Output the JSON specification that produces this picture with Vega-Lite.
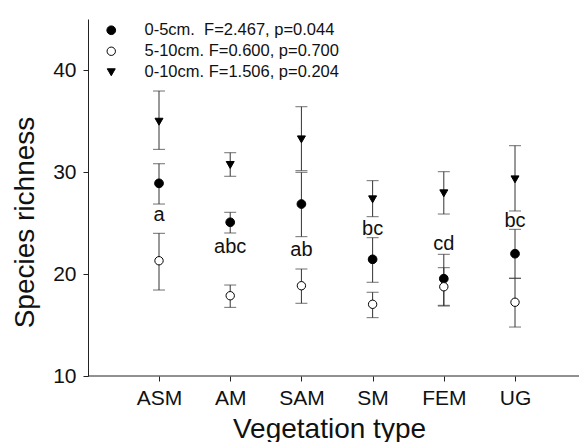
{
  "$schema": "https://vega.github.io/schema/vega-lite/v6.json",
  "autosize": {"type": "none"},
  "padding": {"left": 88, "top": 19, "right": 0, "bottom": 66},
  "width": 491,
  "height": 357,
  "config": {
    "view": {"stroke": null},
    "font": "Liberation Sans",
    "axis": {"grid": false, "domainColor": "#222", "tickColor": "#222", "labelColor": "#111", "titleColor": "#111", "titleFontWeight": "normal"},
    "legend": {"title": null, "orient": "none", "legendX": 15, "legendY": 3, "padding": 0, "labelFontSize": 16.5, "labelOffset": 25, "rowPadding": 4, "symbolStrokeColor": "#000", "symbolStrokeWidth": 1, "labelColor": "#111", "labelLimit": 400}
  },
  "data": {
    "values": [
      {"veg": "ASM", "depth": "0-5cm.\u00a0 F=2.467, p=0.044", "mean": 28.89, "lo": 26.86, "hi": 30.81},
      {"veg": "ASM", "depth": "5-10cm. F=0.600, p=0.700", "mean": 21.30, "lo": 18.43, "hi": 23.99},
      {"veg": "ASM", "depth": "0-10cm. F=1.506, p=0.204", "mean": 34.93, "lo": 32.22, "hi": 37.94},
      {"veg": "AM", "depth": "0-5cm.\u00a0 F=2.467, p=0.044", "mean": 25.07, "lo": 24.02, "hi": 26.05},
      {"veg": "AM", "depth": "5-10cm. F=0.600, p=0.700", "mean": 17.87, "lo": 16.73, "hi": 18.92},
      {"veg": "AM", "depth": "0-10cm. F=1.506, p=0.204", "mean": 30.69, "lo": 29.58, "hi": 31.89},
      {"veg": "SAM", "depth": "0-5cm.\u00a0 F=2.467, p=0.044", "mean": 26.86, "lo": 23.66, "hi": 29.97},
      {"veg": "SAM", "depth": "5-10cm. F=0.600, p=0.700", "mean": 18.85, "lo": 17.13, "hi": 20.49},
      {"veg": "SAM", "depth": "0-10cm. F=1.506, p=0.204", "mean": 33.2, "lo": 30.13, "hi": 36.4},
      {"veg": "SM", "depth": "0-5cm.\u00a0 F=2.467, p=0.044", "mean": 21.44, "lo": 19.19, "hi": 23.56},
      {"veg": "SM", "depth": "5-10cm. F=0.600, p=0.700", "mean": 17.03, "lo": 15.72, "hi": 18.21},
      {"veg": "SM", "depth": "0-10cm. F=1.506, p=0.204", "mean": 27.32, "lo": 25.62, "hi": 29.15},
      {"veg": "FEM", "depth": "0-5cm.\u00a0 F=2.467, p=0.044", "mean": 19.54, "lo": 16.93, "hi": 21.93},
      {"veg": "FEM", "depth": "5-10cm. F=0.600, p=0.700", "mean": 18.75, "lo": 16.86, "hi": 20.62},
      {"veg": "FEM", "depth": "0-10cm. F=1.506, p=0.204", "mean": 27.91, "lo": 25.88, "hi": 30.03},
      {"veg": "UG", "depth": "0-5cm.\u00a0 F=2.467, p=0.044", "mean": 21.99, "lo": 19.58, "hi": 24.38},
      {"veg": "UG", "depth": "5-10cm. F=0.600, p=0.700", "mean": 17.23, "lo": 14.80, "hi": 19.58},
      {"veg": "UG", "depth": "0-10cm. F=1.506, p=0.204", "mean": 29.28, "lo": 26.18, "hi": 32.58}
    ]
  },
  "layer": [
    {
      "mark": {"type": "rule", "color": "#333", "strokeWidth": 1},
      "encoding": {
        "x": {
          "field": "veg", "type": "nominal", "sort": ["ASM", "AM", "SAM", "SM", "FEM", "UG"],
          "scale": {"type": "point", "padding": 0.948, "align": 0.526},
          "axis": {"title": "Vegetation type", "domain": false, "labelAngle": 0, "labelFontSize": 21, "labelPadding": 6, "tickSize": 5, "titleFontSize": 28, "titleX": 241, "titleY": 61, "titleBaseline": "alphabetic", "titleAnchor": null}
        },
        "y": {"field": "lo", "type": "quantitative", "scale": {"domain": [10, 45], "nice": false, "zero": false},
          "axis": {"title": "Species richness", "values": [10, 20, 30, 40], "labelFontSize": 21, "labelPadding": 7, "tickSize": 5, "titleFontSize": 28, "titleX": -55, "titleY": 203, "titleBaseline": "alphabetic", "titleAngle": -90}},
        "y2": {"field": "hi"}
      }
    },
    {
      "mark": {"type": "tick", "orient": "horizontal", "size": 12, "thickness": 1, "color": "#333"},
      "encoding": {
        "x": {"field": "veg", "type": "nominal", "sort": ["ASM", "AM", "SAM", "SM", "FEM", "UG"]},
        "y": {"field": "lo", "type": "quantitative"}
      }
    },
    {
      "mark": {"type": "tick", "orient": "horizontal", "size": 12, "thickness": 1, "color": "#333"},
      "encoding": {
        "x": {"field": "veg", "type": "nominal", "sort": ["ASM", "AM", "SAM", "SM", "FEM", "UG"]},
        "y": {"field": "hi", "type": "quantitative"}
      }
    },
    {
      "mark": {"type": "point", "filled": true, "strokeWidth": 1, "opacity": 1},
      "encoding": {
        "x": {"field": "veg", "type": "nominal", "sort": ["ASM", "AM", "SAM", "SM", "FEM", "UG"]},
        "y": {"field": "mean", "type": "quantitative"},
        "shape": {"field": "depth", "type": "nominal",
          "scale": {"domain": ["0-5cm.\u00a0 F=2.467, p=0.044", "5-10cm. F=0.600, p=0.700", "0-10cm. F=1.506, p=0.204"], "range": ["circle", "circle", "triangle-down"]}},
        "fill": {"field": "depth", "type": "nominal",
          "scale": {"domain": ["0-5cm.\u00a0 F=2.467, p=0.044", "5-10cm. F=0.600, p=0.700", "0-10cm. F=1.506, p=0.204"], "range": ["#000", "#fff", "#000"]}},
        "stroke": {"field": "depth", "type": "nominal",
          "scale": {"domain": ["0-5cm.\u00a0 F=2.467, p=0.044", "5-10cm. F=0.600, p=0.700", "0-10cm. F=1.506, p=0.204"], "range": ["#000", "#000", "#000"]}},
        "size": {"field": "depth", "type": "nominal",
          "scale": {"domain": ["0-5cm.\u00a0 F=2.467, p=0.044", "5-10cm. F=0.600, p=0.700", "0-10cm. F=1.506, p=0.204"], "range": [76, 64, 100]}}
      }
    },
    {
      "data": {
        "values": [
          {"veg": "ASM", "letter": "a", "pos": 25.2},
          {"veg": "AM", "letter": "abc", "pos": 22.09},
          {"veg": "SAM", "letter": "ab", "pos": 21.76},
          {"veg": "SM", "letter": "bc", "pos": 23.82},
          {"veg": "FEM", "letter": "cd", "pos": 22.35},
          {"veg": "UG", "letter": "bc", "pos": 24.58}
        ]
      },
      "mark": {"type": "text", "fontSize": 20, "baseline": "alphabetic", "align": "center", "color": "#111"},
      "encoding": {
        "x": {"field": "veg", "type": "nominal", "sort": ["ASM", "AM", "SAM", "SM", "FEM", "UG"]},
        "y": {"field": "pos", "type": "quantitative"},
        "text": {"field": "letter"}
      }
    },
    {
      "data": {"values": [{"base": 10}]},
      "mark": {"type": "rule", "color": "#222", "strokeWidth": 1},
      "encoding": {"y": {"field": "base", "type": "quantitative"}}
    }
  ]
}
